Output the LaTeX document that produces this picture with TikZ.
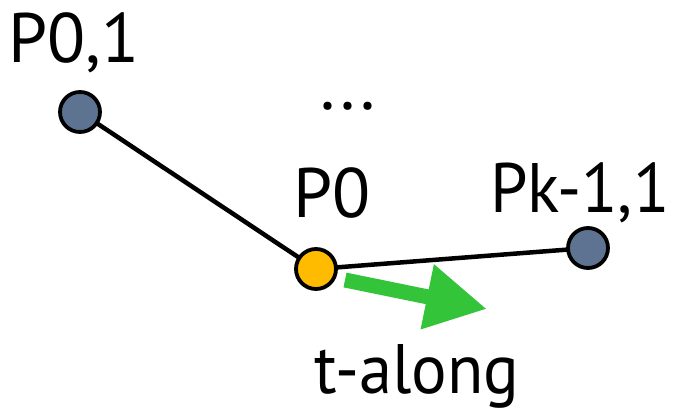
\documentclass[tikz,border=0pt]{standalone}
\usepackage{fontspec}
\usepackage{graphicx}
\setmainfont{PT Sans}
\usetikzlibrary{arrows.meta}
\definecolor{ptblue}{RGB}{94,115,145}
\definecolor{ptorange}{RGB}{255,187,0}
\definecolor{arrgreen}{RGB}{51,196,58}
\tikzset{
  pt/.style={circle, draw=black, line width=3.8pt, minimum size=40pt, inner sep=0pt},
  seg/.style={draw=black, line width=4.5pt},
  lbl/.style={font=\fontsize{70}{70}\selectfont, inner sep=0pt, anchor=base}
}
\begin{document}
\begin{tikzpicture}[x=1pt,y=-1pt]
\useasboundingbox (0,0) rectangle (674,414);
\draw[seg] (80,112) coordinate (ca) -- (316,269) coordinate (cp0) -- (588,248) coordinate (cb);
\node[pt, fill=ptblue] (a) at (ca) {};
\node[pt, fill=ptorange] (p0) at (cp0) {};
\node[pt, fill=ptblue] (b) at (cb) {};
\coordinate (ts) at (345,280);
\coordinate (te) at (487,309);
\draw[arrgreen, line width=15pt, -{Triangle[length=61pt,width=62pt]}] (ts) -- (te);
\node[lbl] (la) at (74,63) {P0,1};
\node[lbl] (ldots) at (348,110) {...};
\node[lbl] (lp0) at (332,217) {P0};
\node[lbl] (lb) at (580,212) {\scalebox{0.96}[1]{Pk-1,1}};
\node[lbl] (lt) at (417,393) {\scalebox{0.95}[1]{t-along}};
\end{tikzpicture}
\end{document}
